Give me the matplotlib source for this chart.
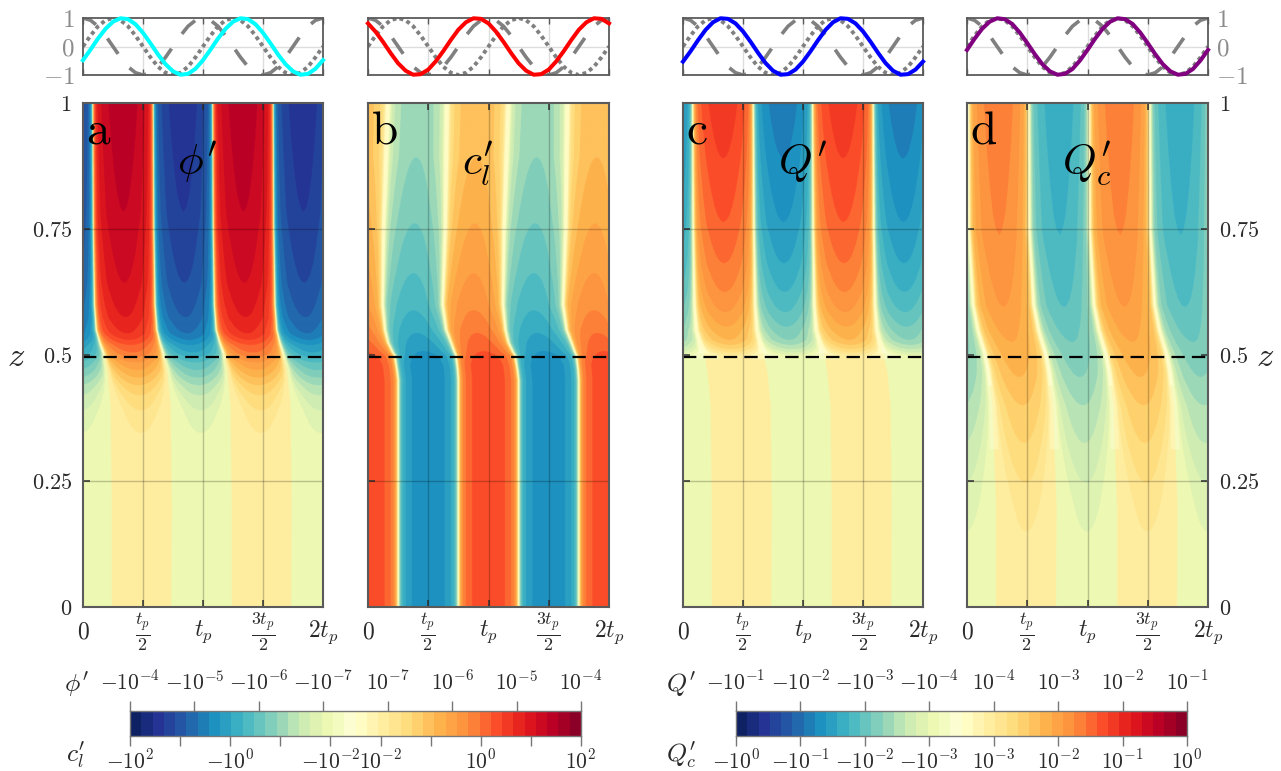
import numpy as np
import matplotlib
matplotlib.use("Agg")
import matplotlib.pyplot as plt
from matplotlib.colors import ListedColormap, BoundaryNorm

plt.rcParams['mathtext.fontset'] = 'cm'
plt.rcParams['font.family'] = 'cmr10'
plt.rcParams['axes.formatter.use_mathtext'] = True

W, H = 1281, 771

# ---------- top strip: forcing curves, sampled every tp/16 ----------
curve_t = [i / 16 for i in range(33)]
curve_dashed = [1, .92, .71, .38, 0, -.38, -.71, -.92, -1, -.92, -.71, -.38, 0, .38, .71, .92, 1,
                .92, .71, .38, 0, -.38, -.71, -.92, -1, -.92, -.71, -.38, 0, .38, .71, .92, 1]
curve_dotted = [0, .38, .71, .92, 1, .92, .71, .38, 0, -.38, -.71, -.92, -1, -.92, -.71, -.38, 0,
                .38, .71, .92, 1, .92, .71, .38, 0, -.38, -.71, -.92, -1, -.92, -.71, -.38, 0]
curve_a = [-.48, -.11, .28, .62, .87, .99, .96, .78, .48, .11, -.28, -.62, -.87, -.99, -.96, -.78, -.48,
           -.11, .28, .62, .87, .99, .96, .78, .48, .11, -.28, -.62, -.87, -.99, -.96, -.78, -.48]
curve_b = [.81, .52, .16, -.23, -.59, -.85, -.99, -.97, -.81, -.52, -.16, .23, .59, .85, .99, .97, .81,
           .52, .16, -.23, -.59, -.85, -.99, -.97, -.81, -.52, -.16, .23, .59, .85, .99, .97, .81]
curve_c = [-.53, -.17, .22, .58, .85, .99, .97, .81, .53, .17, -.22, -.58, -.85, -.99, -.97, -.81, -.53,
           -.17, .22, .58, .85, .99, .97, .81, .53, .17, -.22, -.58, -.85, -.99, -.97, -.81, -.53]
curve_d = [-.12, .27, .62, .87, .99, .96, .79, .49, .12, -.27, -.62, -.87, -.99, -.96, -.79, -.49, -.12,
           .27, .62, .87, .99, .96, .79, .49, .12, -.27, -.62, -.87, -.99, -.96, -.79, -.49, -.12]
curve_colors = ['#00ffff', '#ff0000', '#0000ff', '#800080']

# ---------- field tables, in colourbar blocks ----------
front_z = [0, .2, .4, .45, .47, .5, .505, .525, .55, .6, .75, 1]
up_a = [.24, .24, .23, .21, .20, .175, .17, .14, .11, .095, .085, .08]
dn_a = [.735, .74, .73, .71, .70, .67, .665, .64, .615, .60, .59, .585]
up_b = [.75, .75, .75, .75, .745, .73, .72, .69, .65, .62, .642, .655]
dn_b = [1.25, 1.25, 1.25, 1.25, 1.24, 1.22, 1.205, 1.165, 1.14, 1.12, 1.128, 1.164]
up_c = [.24, .24, .23, .21, .20, .18, .17, .14, .11, .095, .085, .08]
dn_c = [.735, .74, .73, .71, .70, .67, .665, .64, .615, .60, .59, .585]
up_d = [.24, .24, .21, .185, .175, .15, .145, .12, .09, .05, .015, .01]
dn_d = [.735, .74, .71, .685, .675, .65, .645, .62, .59, .55, .515, .51]

peak_z_a = [0, .2, .345, .39, .42, .44, .455, .47, .485, .495, .505, .52, .53, .543, .575, .643, .784, 1]
peak_a = [2.5, 2.5, 3, 4, 5, 6, 7, 8, 9, 10, 11, 12, 13, 14, 15, 16, 17, 17.7]
peak_z_b = [0, .48, .495, .508, .544, .589, .663, .762, .893, 1]
peak_b = [12.9, 12.9, 12.6, 12, 11, 10, 9, 8, 7, 6.9]
peak_z_c = [0, .49, .5, .505, .515, .53, .556, .585, .625, .682, .764, .89, 1]
peak_c = [2.5, 2.7, 3, 4, 5.5, 7, 8, 9, 10, 11, 12, 13, 13.7]
peak_z_d = [0, .149, .246, .325, .40, .456, .595, .738, 1]
peak_d = [2.5, 3, 4, 5, 6, 7, 9, 10, 10.7]

floor_z = [0, .3, .49, .515, 1]
floor_a = [2.1, 2.1, 2.1, 0, 0]
floor_b = [0, 0, 0, 0, 0]
floor_c = [2.1, 2.1, 2.1, 0, 0]
floor_d = [2.1, 2.1, 0.6, 0, 0]

# drop in blocks across a half cycle, from its middle (s=.5) to its front (s=0)
drop_s = [0, .003, .008, .015, .025, .04, .055, .08, .10, .12, .14, .17, .2, .23, .26, .3, .35, .4, .45, .5]
drop_v = [20, 14, 11, 8.5, 6.5, 4.8, 3.7, 2.7, 2.25, 1.95, 1.7, 1.37, 1.1, .88, .7, .47, .26, .11, .03, 0]

panels = [
    dict(x=(83, 323), up=up_a, dn=dn_a, pz=peak_z_a, pk=peak_a, fl=floor_a, c=curve_a, letter='a', name=r"$\phi'$", nx=177),
    dict(x=(368, 609), up=up_b, dn=dn_b, pz=peak_z_b, pk=peak_b, fl=floor_b, c=curve_b, letter='b', name=r"$c_l'$", nx=462),
    dict(x=(683, 923), up=up_c, dn=dn_c, pz=peak_z_c, pk=peak_c, fl=floor_c, c=curve_c, letter='c', name=r"$Q'$", nx=778),
    dict(x=(967, 1208), up=up_d, dn=dn_d, pz=peak_z_d, pk=peak_d, fl=floor_d, c=curve_d, letter='d', name=r"$Q_c'$", nx=1062),
]

xtick_pos = [0, .5, 1, 1.5, 2]
xtick_lab = ['$0$', r'$\frac{t_p}{2}$', '$t_p$', r'$\frac{3t_p}{2}$', '$2t_p$']
xtick_size = [17, 18.5, 17, 18.5, 17]
ztick_pos = [0, .25, .5, .75, 1]
ztick_lab = ['$0$', '$0.25$', '$0.5$', '$0.75$', '$1$']

top_ticks_1 = [r'$-10^{-4}$', r'$-10^{-5}$', r'$-10^{-6}$', r'$-10^{-7}$', r'$10^{-7}$', r'$10^{-6}$', r'$10^{-5}$', r'$10^{-4}$']
bot_ticks_1 = [r'$-10^{2}$', '', r'$-10^{0}$', '', r'$-10^{-2}$', r'$10^{-2}$', '', r'$10^{0}$', '', r'$10^{2}$']
top_ticks_2 = [r'$-10^{-1}$', r'$-10^{-2}$', r'$-10^{-3}$', r'$-10^{-4}$', r'$10^{-4}$', r'$10^{-3}$', r'$10^{-2}$', r'$10^{-1}$']
bot_ticks_2 = [r'$-10^{0}$', r'$-10^{-1}$', r'$-10^{-2}$', r'$-10^{-3}$', r'$10^{-3}$', r'$10^{-2}$', r'$10^{-1}$', r'$10^{0}$']

# ---------- colour scale ----------
low = plt.get_cmap('YlGnBu_r')((np.arange(20) + .5) / 20)
high = plt.get_cmap('YlOrRd')((np.arange(20) + .5) / 20)
cmap = ListedColormap(np.vstack([low, high]))
levels = np.arange(-20, 21)
norm = BoundaryNorm(levels, cmap.N)


def px_axes(x0, x1, y0, y1):
    return fig.add_axes([x0 / W, 1 - y1 / H, (x1 - x0) / W, (y1 - y0) / H])


FRAME = '#5a5a5a'
TXT = '#2a2a2a'
fig = plt.figure(figsize=(W / 100, H / 100), dpi=100, facecolor='white')

t_grid = np.linspace(0, 2, 1440)
z_grid = np.linspace(0, 1, 1500)

for i, p in enumerate(panels):
    x0, x1 = p['x']
    # top strip
    at = px_axes(x0, x1, 18, 75)
    at.set_xlim(0, 2)
    at.set_ylim(-1, 1)
    for v in (.5, 1, 1.5):
        at.axvline(v, color='#dddddd', lw=1, zorder=1)
    at.axhline(0, color='#dddddd', lw=1, zorder=1)
    at.plot(curve_t, curve_dotted, color='#808080', lw=2.8, ls=(0, (1, .9)), zorder=2)
    at.plot(curve_t, curve_dashed, color='#808080', lw=2.6, ls=(1.1, (5.2, 5)), zorder=2)
    at.plot(curve_t, p['c'], color=curve_colors[i], lw=2.9, zorder=3, clip_on=False)
    at.set_xticks(xtick_pos)
    at.set_xticklabels([])
    at.tick_params(axis='x', direction='in', length=4, width=1, color=FRAME, top=True, bottom=True)
    at.set_yticks([-1, 0, 1])
    at.tick_params(axis='y', length=0, colors='#8c8c8c', labelsize=18, pad=6)
    at.set_yticklabels(['$-1$', '$0$', '$1$'])
    if i == 3:
        at.yaxis.tick_right()
        at.tick_params(axis='y', length=0, pad=6)
    elif i != 0:
        at.set_yticklabels([])
    for s in at.spines.values():
        s.set_color(FRAME)
        s.set_linewidth(1.3)
        s.set_zorder(2.5)

    # main field
    ax = px_axes(x0, x1, 103, 607)
    up = np.interp(z_grid, front_z, p['up'])[:, None]
    dn = np.interp(z_grid, front_z, p['dn'])[:, None]
    pk = np.interp(z_grid, p['pz'], p['pk'])[:, None]
    fl = np.interp(z_grid, floor_z, p['fl'])[:, None]
    half = dn - up
    u = np.mod(t_grid[None, :] - up, 1.0)
    pos = u < half
    s = np.where(pos, u / half, (u - half) / (1 - half))
    s = np.minimum(s, 1 - s)
    drop = np.interp(s, drop_s, drop_v)
    mag = np.maximum(pk - drop, fl)
    field = np.where(pos, mag, -mag)
    ax.imshow(field, origin='lower', extent=(0, 2, 0, 1), aspect='auto', cmap=cmap, norm=norm,
              interpolation='hanning', interpolation_stage='rgba')
    ax.set_xlim(0, 2)
    ax.set_ylim(0, 1)
    for v in (.5, 1, 1.5):
        ax.axvline(v, color='black', lw=1, alpha=.22)
    for v in (.25, .75):
        ax.axhline(v, color='black', lw=1, alpha=.22)
    ax.plot([0, 2], [.497, .497], color='black', lw=1.6, ls=(0, (6, 3.2)))
    ax.set_xticks(xtick_pos)
    ax.set_xticklabels([])
    xf = ax.get_xaxis_transform()
    for xv, lab, fs in zip(xtick_pos, xtick_lab, xtick_size):
        ax.text(xv, -(632 - 607) / 504, lab, transform=xf, fontsize=fs, color=TXT, ha='center', va='center', clip_on=False)
    ax.tick_params(axis='x', direction='in', length=5, width=1.1, color='#333333', top=True, bottom=True, pad=8)
    ax.set_yticks(ztick_pos)
    ax.set_yticklabels(ztick_lab, fontsize=16, color=TXT)
    ax.tick_params(axis='y', direction='in', length=5, width=1.1, color='#333333', left=True, pad=8)
    if i == 3:
        ax.yaxis.set_ticks_position('both')
        ax.tick_params(axis='y', labelleft=False, labelright=True, direction='in', length=5, pad=8)
    elif i != 0:
        ax.tick_params(axis='y', labelleft=False)
    for s_ in ax.spines.values():
        s_.set_color(FRAME)
        s_.set_linewidth(1.5)
    fig.text((x0 + 3) / W, 1 - 143 / H, r'$\mathrm{%s}$' % p['letter'], fontsize=34, color='black', ha='left', va='baseline')
    fig.text(p['nx'] / W, 1 - 175 / H, p['name'], fontsize=31, color='black', ha='left', va='baseline')

fig.text(16 / W, 1 - 357 / H, '$z$', fontsize=25, color=TXT, ha='center', va='center')
fig.text(1265 / W, 1 - 357 / H, '$z$', fontsize=25, color=TXT, ha='center', va='center')


def bar(x0, x1, top_lab, bot_lab, name_top, name_bot, name_x):
    ac = px_axes(x0, x1, 711, 736)
    idx = np.arange(-20, 20) + .5
    ac.pcolormesh(levels, [0, 1], idx[None, :], cmap=cmap, norm=norm)
    ac.set_xlim(-20, 20)
    ac.set_ylim(0, 1)
    ac.set_yticks([])
    ac.set_xticks(np.linspace(-20, 20, len(bot_lab)))
    ac.set_xticklabels(bot_lab, fontsize=15.5, color=TXT)
    ac.tick_params(axis='x', length=7.5, width=1, color='#777777', pad=1.5)
    for s_ in ac.spines.values():
        s_.set_color('#777777')
        s_.set_linewidth(1)
    atop = ac.twiny()
    atop.set_xlim(-20, 20)
    atop.set_xticks(np.linspace(-20, 20, len(top_lab)))
    atop.set_xticklabels(top_lab, fontsize=15.5, color=TXT)
    atop.tick_params(axis='x', length=7.5, width=1, color='#777777', pad=5)
    for s_ in atop.spines.values():
        s_.set_visible(False)
    fig.text(name_x / W, 1 - 684 / H, name_top, fontsize=18.5, color=TXT, ha='center', va='center')
    fig.text(name_x / W, 1 - 755 / H, name_bot, fontsize=18.5, color=TXT, ha='center', va='center')


bar(130, 581, top_ticks_1, bot_ticks_1, r"$\phi'$", r"$c_l'$", 76)
bar(736, 1187, top_ticks_2, bot_ticks_2, r"$Q'$", r"$Q_c'$", 681)

fig.savefig('out.png', dpi=100, facecolor='white')
